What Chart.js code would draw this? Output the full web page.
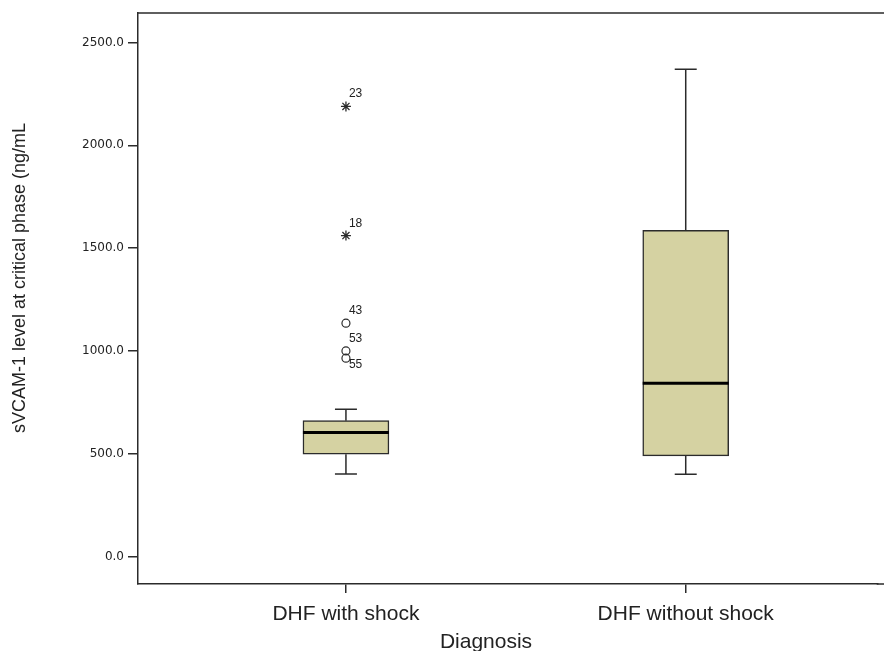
<!DOCTYPE html>
<html>
<head>
<meta charset="utf-8">
<script src="https://cdn.jsdelivr.net/npm/chart.js@4.4.0/dist/chart.umd.min.js"></script>
<style>
  html, body { margin: 0; padding: 0; background: #fff; }
</style>
</head>
<body>
<canvas id="svcam-boxplot" width="884" height="651"></canvas>
<script>
// box plot summary (ng/mL)
const categories = ["DHF with shock", "DHF without shock"];
const whiskerLow = [402, 401];
const quartile1 = [498, 490];
const medians = [603, 843];
const quartile3 = [661, 1586];
const whiskerHigh = [717, 2369];

// outliers (circles) and extremes (stars), all in the first group
const outlierIds = ["43", "53", "55"];
const outlierValues = [1135, 1000, 965];
const extremeIds = ["23", "18"];
const extremeValues = [2189, 1561];

const yTicks = [0, 500, 1000, 1500, 2000, 2500];

const lineColor = "#2b2b2b";
const textColor = "#222";

// whiskers, medians, frame lines, outlier ids and titles
const boxExtras = {
    id: "boxExtras",
    afterDatasetsDraw(chart) {
        const ctx = chart.ctx;
        const x = chart.scales.x;
        const y = chart.scales.y;
        const area = chart.chartArea;
        const boxW = 86;
        const capW = 22;

        ctx.save();
        ctx.strokeStyle = lineColor;
        ctx.lineWidth = 1.5;

        // frame top, and the bottom axis carried to the canvas edge
        ctx.beginPath();
        ctx.moveTo(area.left, area.top);
        ctx.lineTo(chart.width, area.top);
        ctx.moveTo(area.right - 1, area.bottom);
        ctx.lineTo(chart.width, area.bottom);
        ctx.stroke();

        categories.forEach(function (c, i) {
            const cx = x.getPixelForValue(i + 1);
            const yLow = y.getPixelForValue(whiskerLow[i]);
            const yQ1 = y.getPixelForValue(quartile1[i]);
            const yQ3 = y.getPixelForValue(quartile3[i]);
            const yHigh = y.getPixelForValue(whiskerHigh[i]);

            ctx.lineWidth = 1.5;
            ctx.beginPath();
            ctx.moveTo(cx, yQ3);
            ctx.lineTo(cx, yHigh);
            ctx.moveTo(cx - capW / 2, yHigh);
            ctx.lineTo(cx + capW / 2, yHigh);
            ctx.moveTo(cx, yQ1);
            ctx.lineTo(cx, yLow);
            ctx.moveTo(cx - capW / 2, yLow);
            ctx.lineTo(cx + capW / 2, yLow);
            ctx.stroke();

            const ym = y.getPixelForValue(medians[i]);
            ctx.strokeStyle = "#000";
            ctx.lineWidth = 3;
            ctx.beginPath();
            ctx.moveTo(cx - boxW / 2, ym);
            ctx.lineTo(cx + boxW / 2, ym);
            ctx.stroke();
            ctx.strokeStyle = lineColor;
        });

        // case numbers next to outliers
        ctx.fillStyle = textColor;
        ctx.font = '12px "Liberation Sans"';
        ctx.textAlign = "left";
        ctx.textBaseline = "alphabetic";
        const labelled = [
            { ids: extremeIds, values: extremeValues },
            { ids: outlierIds, values: outlierValues },
        ];
        labelled.forEach(function (group) {
            group.ids.forEach(function (id, k) {
                const px = x.getPixelForValue(1);
                const py = y.getPixelForValue(group.values[k]);
                // the lowest of two close points gets its number below
                const below = k > 0 && group.values[k - 1] - group.values[k] < 60;
                ctx.fillText(id, px + 3, below ? py + 10 : py - 9);
            });
        });

        // axis titles
        ctx.font = '21px "Liberation Sans"';
        ctx.textAlign = "center";
        ctx.fillText("Diagnosis", 486, 648);

        ctx.save();
        ctx.translate(25, 278);
        ctx.rotate(-Math.PI / 2);
        ctx.font = '18px "Liberation Sans"';
        ctx.textBaseline = "alphabetic";
        ctx.fillText("sVCAM-1 level at critical phase (ng/mL", 0, 0);
        ctx.restore();

        ctx.restore();
    },
};

const ctx = document.getElementById("svcam-boxplot").getContext("2d");

const chart = new Chart(ctx, {
    type: "bar",
    data: {
        datasets: [
            {
                type: "bar",
                label: "IQR",
                data: categories.map(function (c, i) {
                    return { x: i + 1, y: [quartile1[i], quartile3[i]] };
                }),
                backgroundColor: "#d5d2a2",
                borderColor: lineColor,
                borderWidth: 1.5,
                borderSkipped: false,
                barThickness: 86,
            },
            {
                type: "scatter",
                label: "Outliers",
                data: outlierValues.map(function (v) { return { x: 1, y: v }; }),
                pointStyle: "circle",
                radius: 4,
                borderColor: lineColor,
                backgroundColor: "rgba(0,0,0,0)",
                borderWidth: 1.2,
            },
            {
                type: "scatter",
                label: "Extremes",
                data: extremeValues.map(function (v) { return { x: 1, y: v }; }),
                pointStyle: "star",
                radius: 5,
                borderColor: lineColor,
                borderWidth: 1.3,
            },
        ],
    },
    options: {
        responsive: false,
        animation: false,
        layout: { padding: { top: 13, left: 0, right: 0, bottom: 0 } },
        plugins: {
            legend: { display: false },
            tooltip: { enabled: false },
        },
        scales: {
            x: {
                type: "linear",
                offset: false,
                min: 0.388,
                max: 2.565,
                afterBuildTicks: function (scale) {
                    scale.ticks = categories.map(function (c, i) { return { value: i + 1 }; });
                },
                afterFit: function (scale) { scale.height = 67; },
                ticks: {
                    callback: function (v) { return categories[v - 1]; },
                    autoSkip: false,
                    maxRotation: 0,
                    padding: 9,
                    color: textColor,
                    font: { family: "Liberation Sans", size: 21 },
                },
                grid: {
                    display: true,
                    offset: false,
                    drawOnChartArea: false,
                    drawTicks: true,
                    tickLength: 9,
                    color: lineColor,
                    lineWidth: 1.5,
                },
                border: { display: true, color: lineColor, width: 1.5 },
            },
            y: {
                min: -133,
                max: 2643,
                afterBuildTicks: function (scale) {
                    scale.ticks = yTicks.map(function (v) { return { value: v }; });
                },
                afterFit: function (scale) { scale.width = 138; },
                ticks: {
                    callback: function (v) { return v.toFixed(1); },
                    padding: 4,
                    color: textColor,
                    font: { family: "DejaVu Sans", size: 12 },
                },
                grid: {
                    display: true,
                    drawOnChartArea: false,
                    drawTicks: true,
                    tickLength: 10,
                    color: lineColor,
                    lineWidth: 1.5,
                },
                border: { display: true, color: lineColor, width: 1.5 },
            },
        },
    },
    plugins: [boxExtras],
});
</script>
</body>
</html>
